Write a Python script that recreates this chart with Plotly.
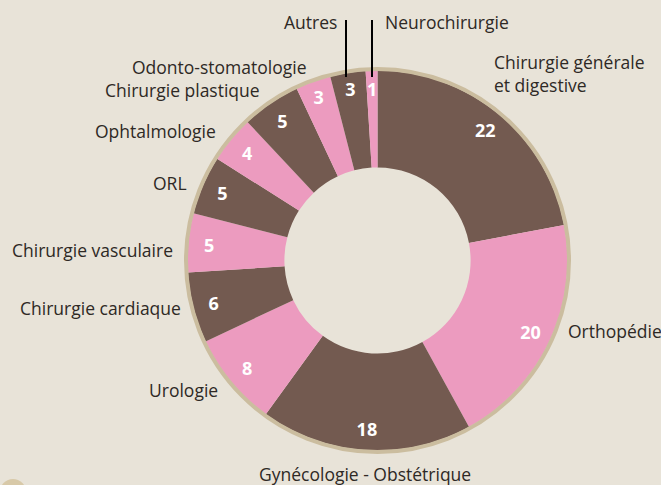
import math
import plotly.graph_objects as go

# ---- data ----
categories = ["Chirurgie générale et digestive", "Orthopédie", "Gynécologie - Obstétrique",
              "Urologie", "Chirurgie cardiaque", "Chirurgie vasculaire", "ORL",
              "Ophtalmologie", "Chirurgie plastique", "Odonto-stomatologie", "Autres",
              "Neurochirurgie"]
values = [22, 20, 18, 8, 6, 5, 5, 4, 5, 3, 3, 1]

# ---- style ----
BROWN = "#735a50"
PINK = "#ec9bbf"
BG = "#e8e3d8"
RIM = "#cbbd9f"
TXT = "#2e2925"
colors = [BROWN if i % 2 == 0 else PINK for i in range(len(values))]
NUMFONT = dict(family="Open Sans", size=18, color="white", weight="bold")

W, H = 661, 485
cx, cy, R = 377.5, 260.5, 190.0
R_TEXT = 172.0
SMALL = 2  # slices at or below this value get their number placed by hand


def px(x):
    return x / W


def py(y):
    return 1 - y / H


domain = dict(x=[px(cx - R), px(cx + R)], y=[py(cy + R), py(cy - R)])

fig = go.Figure()
fig.add_trace(go.Pie(
    values=values, labels=categories, sort=False, direction="clockwise", rotation=0,
    hole=0.49, domain=domain, marker=dict(colors=colors, line=dict(width=0)),
    textinfo="none", hoverinfo="label+value", showlegend=False))
fig.add_trace(go.Pie(
    values=values, labels=categories, sort=False, direction="clockwise", rotation=0,
    hole=0.78, domain=domain,
    marker=dict(colors=["rgba(0,0,0,0)"] * len(values), line=dict(width=0)),
    text=[str(v) if v > SMALL else "" for v in values],
    textinfo="text", textposition="inside", insidetextorientation="horizontal",
    textfont=NUMFONT, hoverinfo="skip", showlegend=False))

# numbers of very thin slices, placed at the slice's mid-angle
total = sum(values)
cum = 0
for v in values:
    if v <= SMALL:
        ang = 2 * math.pi * (cum + v / 2) / total
        tx = cx + R_TEXT * math.sin(ang)
        ty = cy - R_TEXT * math.cos(ang)
        fig.add_annotation(text=str(v), x=px(tx), y=py(ty), xref="paper", yref="paper",
                           showarrow=False, xanchor="center", yanchor="middle", font=NUMFONT)
    cum += v

# outer rim
fig.add_shape(type="circle", xref="paper", yref="paper",
              x0=px(cx - R - 1.5), x1=px(cx + R + 1.5), y0=py(cy + R + 1.5), y1=py(cy - R - 1.5),
              line=dict(color=RIM, width=4), layer="above")
# small decorative circle bottom-left
fig.add_shape(type="circle", xref="paper", yref="paper",
              x0=px(0), x1=px(26), y0=py(505), y1=py(479),
              line=dict(width=0), fillcolor="#d8c9a8", layer="below")

# leader lines
for lx in (346, 372):
    fig.add_shape(type="line", xref="paper", yref="paper",
                  x0=px(lx), x1=px(lx), y0=py(20), y1=py(77),
                  line=dict(color="black", width=2))

# outside labels: (text, x, y, xanchor)
label_pos = [
    ("Chirurgie générale<br>et digestive", 492, 73, "left"),
    ("Orthopédie", 566, 331, "left"),
    ("Gynécologie - Obstétrique", 365, 474, "center"),
    ("Urologie", 220, 390, "right"),
    ("Chirurgie cardiaque", 183, 308, "right"),
    ("Chirurgie vasculaire", 175, 250, "right"),
    ("ORL", 189, 183, "right"),
    ("Ophtalmologie", 218, 131, "right"),
    ("Chirurgie plastique", 262, 90, "right"),
    ("Odonto-stomatologie", 308, 67, "right"),
    ("Autres", 339, 22, "right"),
    ("Neurochirurgie", 383, 22, "left"),
]
for text, x, y, xa in label_pos:
    fig.add_annotation(text=text, x=px(x), y=py(y), xref="paper", yref="paper",
                       xanchor=xa, yanchor="middle", showarrow=False, align="left",
                       font=dict(family="Open Sans", size=17.5, color=TXT))

fig.update_layout(
    width=W, height=H, margin=dict(l=0, r=0, t=0, b=0),
    paper_bgcolor=BG, plot_bgcolor=BG,
    uniformtext=dict(minsize=18, mode="show"),
)

fig.write_html("out.html", config=dict(displayModeBar=False))

# remove default page margin so the figure fills the window exactly
with open("out.html", encoding="utf-8") as f:
    html = f.read()
html = html.replace("<head>", "<head><style>html,body{margin:0;padding:0;overflow:hidden;background:%s}</style>" % BG, 1)
with open("out.html", "w", encoding="utf-8") as f:
    f.write(html)
